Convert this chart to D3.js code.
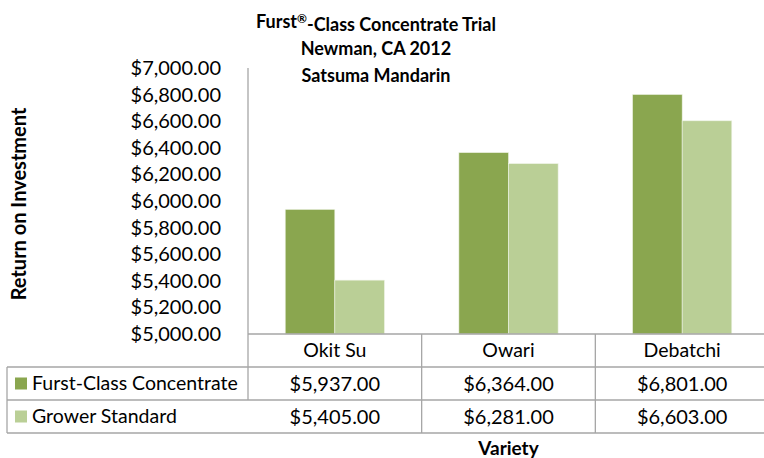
<!DOCTYPE html>
<html>
<head>
<meta charset="utf-8">
<script src="https://cdn.jsdelivr.net/npm/d3@7"></script>
<style>
  body { margin: 0; background: #fff; }
  svg { font-family: Lato, "Open Sans", sans-serif; }
</style>
</head>
<body>
<div id="chart"></div>
<script>
// Chart data
const varieties = ["Okit Su", "Owari", "Debatchi"];
const seriesNames = ["Furst-Class Concentrate", "Grower Standard"];
const furstValues = [5937, 6364, 6801];
const growerValues = [5405, 6281, 6603];
const yTicks = [5000, 5200, 5400, 5600, 5800, 6000, 6200, 6400, 6600, 6800, 7000];
const titleLines = ["Newman, CA 2012", "Satsuma Mandarin"];

const colors = ["#8aa64f", "#bacf96"];
const gridColor = "#a6a6a6";

const width = 764, height = 458;
const plot = { left: 248, right: 769, top: 68, bottom: 334 };
const tableLeft = 7;
const rowH = 33;

const svg = d3.select("#chart").append("svg")
  .attr("width", width)
  .attr("height", height);

const x0 = d3.scaleBand().domain(varieties).range([plot.left, plot.right]);
const x1 = d3.scaleBand().domain(seriesNames).range([0, x0.bandwidth()]).paddingOuter(0.75);
const y = d3.scaleLinear().domain([5000, 7000]).range([plot.bottom, plot.top]);

const fmt = d3.format("$,.2f");
const seriesValues = [furstValues, growerValues];

// Bars
const groups = svg.append("g").selectAll("g")
  .data(varieties)
  .join("g")
  .attr("transform", (d) => `translate(${x0(d)},0)`);

groups.selectAll("rect")
  .data((d, i) => seriesNames.map((s, j) => ({ s, v: seriesValues[j][i], j })))
  .join("rect")
  .attr("x", (d) => x1(d.s))
  .attr("width", x1.bandwidth())
  .attr("y", (d) => y(d.v))
  .attr("height", (d) => y(5000) - y(d.v))
  .attr("fill", (d) => colors[d.j])
  .attr("stroke", "#eef3e6")
  .attr("stroke-width", 0.6);

// Y axis
const yAxis = svg.append("g")
  .attr("transform", `translate(${plot.left},0)`)
  .call(d3.axisLeft(y).tickValues(yTicks).tickFormat(fmt).tickSize(0).tickPadding(27));
yAxis.select(".domain").attr("stroke", gridColor).attr("stroke-width", 1.3)
  .attr("d", `M0,${plot.top}V${plot.bottom + 2 * rowH}`);
yAxis.selectAll("text").attr("font-size", 20).attr("fill", "#000")
  .attr("font-family", "Lato, sans-serif");

// Data table grid
const grid = svg.append("g").attr("stroke", gridColor).attr("stroke-width", 1.3);
[plot.bottom, plot.bottom + rowH, plot.bottom + 2 * rowH, plot.bottom + 3 * rowH].forEach((yy, i) => {
  grid.append("line")
    .attr("x1", i === 0 ? plot.left : tableLeft).attr("x2", width)
    .attr("y1", yy).attr("y2", yy);
});
grid.append("line")
  .attr("x1", tableLeft).attr("x2", tableLeft)
  .attr("y1", plot.bottom + rowH).attr("y2", plot.bottom + 3 * rowH);
varieties.forEach((v) => {
  grid.append("line")
    .attr("x1", x0(v) + x0.bandwidth()).attr("x2", x0(v) + x0.bandwidth())
    .attr("y1", plot.bottom).attr("y2", plot.bottom + 3 * rowH);
});

// Category row
svg.append("g").selectAll("text")
  .data(varieties)
  .join("text")
  .attr("x", (d) => x0(d) + x0.bandwidth() / 2)
  .attr("y", plot.bottom + rowH / 2)
  .attr("dy", "0.35em")
  .attr("text-anchor", "middle")
  .attr("font-size", 19.5)
  .text((d) => d);

// Series rows
seriesNames.forEach((s, j) => {
  const cy = plot.bottom + rowH * (j + 1) + rowH / 2;
  svg.append("rect")
    .attr("x", 15).attr("y", cy - 6)
    .attr("width", 12).attr("height", 12)
    .attr("fill", colors[j]);
  svg.append("text")
    .attr("x", 32).attr("y", cy).attr("dy", "0.35em")
    .attr("font-size", 19.5)
    .text(s);
  svg.append("g").selectAll("text")
    .data(seriesValues[j])
    .join("text")
    .attr("x", (d, i) => x0(varieties[i]) + x0.bandwidth() / 2)
    .attr("y", cy).attr("dy", "0.35em")
    .attr("text-anchor", "middle")
    .attr("font-size", 20)
    .text((d) => fmt(d));
});

// Title (first line has a superscript registered mark)
const t1 = svg.append("text")
  .attr("x", 376).attr("y", 22).attr("dy", "0.35em")
  .attr("text-anchor", "middle")
  .attr("font-size", 18).attr("font-weight", "bold");
t1.append("tspan").text("Furst");
t1.append("tspan").attr("font-size", 12).attr("dy", "-0.45em").text("\u00AE");
t1.append("tspan").attr("dy", "0.45em").text("-Class Concentrate Trial");

svg.append("g").selectAll("text")
  .data(titleLines)
  .join("text")
  .attr("x", 376)
  .attr("y", (d, i) => 49 + i * 26.5)
  .attr("dy", "0.35em")
  .attr("text-anchor", "middle")
  .attr("font-size", 18)
  .attr("font-weight", "bold")
  .text((d) => d);

// Axis titles
svg.append("text")
  .attr("transform", `translate(19,${(plot.top + plot.bottom) / 2 + 3}) rotate(-90)`)
  .attr("dy", "0.35em")
  .attr("text-anchor", "middle")
  .attr("font-size", 20)
  .attr("font-weight", "bold")
  .text("Return on Investment");

svg.append("text")
  .attr("x", (plot.left + plot.right) / 2)
  .attr("y", 448)
  .attr("dy", "0.35em")
  .attr("text-anchor", "middle")
  .attr("font-size", 19)
  .attr("font-weight", "bold")
  .text("Variety");
</script>
</body>
</html>
